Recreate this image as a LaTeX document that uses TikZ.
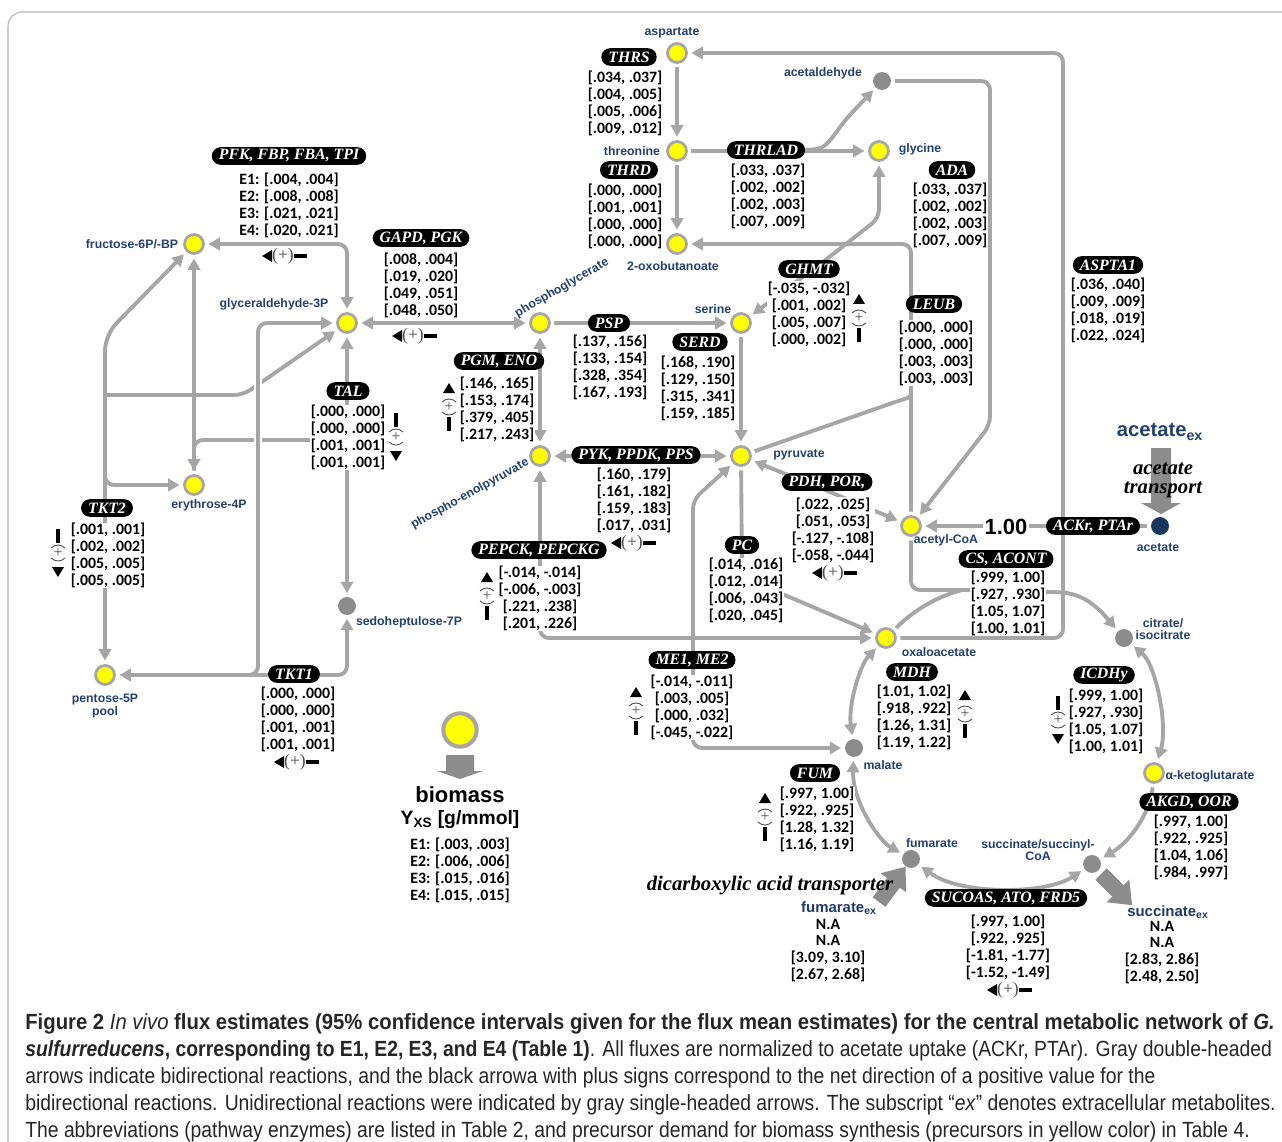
\documentclass[tikz,border=0pt]{standalone}
\usepackage{graphicx}
\usepackage{fontspec}
\setmainfont{Liberation Sans}
\newfontfamily\valfont{Carlito}
\newfontfamily\enzserif{Liberation Serif}
\newfontfamily\capfont[FakeStretch=0.88]{Liberation Sans}
\usetikzlibrary{arrows.meta,backgrounds}

\definecolor{fluxgray}{HTML}{A6A6A6}
\definecolor{metgray}{HTML}{8C8C8C}
\definecolor{metyellow}{HTML}{FFFF00}
\definecolor{navy}{HTML}{24406E}
\definecolor{exnavy}{HTML}{1F3A68}
\definecolor{acnavy}{HTML}{17375E}
\definecolor{blockgray}{HTML}{8C8C8C}
\definecolor{framegray}{HTML}{B4B4B4}

\newcommand{\fluxci}[4]{{#1}\\{#2}\\{#3}\\{#4}}

\tikzset{
  >={Triangle[length=6.5pt,width=7pt]},
  prec/.style={circle, draw=fluxgray, line width=1.6pt, fill=metyellow, minimum size=10.8pt, inner sep=0pt},
  inter/.style={circle, fill=metgray, minimum size=10.2pt, inner sep=0pt},
  extmet/.style={circle, fill=acnavy, minimum size=10.2pt, inner sep=0pt},
  metlab/.style={text=navy, font=\bfseries\fontsize{7}{7.2}\selectfont, align=center, inner sep=0pt},
  exlab/.style={text=exnavy, inner sep=0pt, font=\bfseries\fontsize{8.5}{8.5}\selectfont},
  enz/.style={fill=black, text=white, rounded corners=5pt, minimum height=10pt, inner xsep=4pt, inner ysep=0pt,
    font=\enzserif\bfseries\itshape\fontsize{9}{9}\selectfont},
  vals/.style={fill=white, align=center, inner sep=0.3pt, font=\valfont\bfseries\fontsize{9}{9.64}\selectfont},
  flux/.style={draw=fluxgray, line width=2.2pt, rounded corners=5pt, shorten >=2pt, shorten <=2pt},
  fromline/.style={shorten <=0pt},
  ontoline/.style={shorten >=0pt},
  overgap/.style={preaction={draw=white, line width=4.5pt}},
  transnote/.style={font=\enzserif\bfseries\itshape\fontsize{11.8}{10.8}\selectfont, align=center, inner sep=0pt},
  capline/.style={anchor=base west, inner sep=0pt, text=black!85, font=\capfont\fontsize{12.5}{12.5}\selectfont},
  hsign/.pic={
    \fill[black] (-22,0) -- (-12,-6) -- (-12,6) -- cycle;
    \node[inner sep=0pt, text=black!70, font=\enzserif\fontsize{10}{10}\selectfont] (-t) at (-1,0) {(+)};
    \fill[black] (10,-2.2) rectangle (23,2.2);
  },
  vsign/.pic={
    \fill[black] (0,-24) -- (-6,-14) -- (6,-14) -- cycle;
    \draw[black!70, line width=0.5pt] (-7,-5) .. controls (-3,-9) and (3,-9) .. (7,-5);
    \node[inner sep=0pt, text=black!70, font=\enzserif\fontsize{9}{9}\selectfont] (-t) at (0,0) {+};
    \draw[black!70, line width=0.5pt] (-7,5) .. controls (-3,9) and (3,9) .. (7,5);
    \fill[black] (-2,10) rectangle (2,24);
  },
  bigarrow/.pic={
    \fill[blockgray] (0,-8) -- (24,-8) -- (24,-16) -- (44,0) -- (24,16) -- (24,8) -- (0,8) -- cycle;
  }
}

\begin{document}
\begin{tikzpicture}[x=0.02cm, y=-0.02cm]
  \useasboundingbox (0,0) rectangle (1282,1142);
  \begin{scope}[on background layer]
    \fill[white] (0,0) rectangle (1282,1142);
    \draw[framegray, line width=0.6pt, rounded corners=8pt] (1282,12) -- (8,12) -- (8,1142);
  \end{scope}

  % metabolites
  \node[prec] (asp) at (677,53) {};
  \node[inter] (acald) at (882,81) {};
  \node[prec] (thr) at (677,151) {};
  \node[prec] (gly) at (879,151) {};
  \node[prec] (obut) at (677,244) {};
  \node[prec] (f6p) at (194,244) {};
  \node[prec] (g3p) at (347,323) {};
  \node[prec] (pg) at (540,323) {};
  \node[prec] (ser) at (741,323) {};
  \node[prec] (pep) at (540,456) {};
  \node[prec] (pyr) at (741,456) {};
  \node[prec] (e4p) at (194,485) {};
  \node[prec] (acoa) at (911,526) {};
  \node[extmet] (ac) at (1160,526) {};
  \node[inter] (s7p) at (347,606) {};
  \node[prec] (oaa) at (886,638) {};
  \node[inter] (cit) at (1124,638) {};
  \node[prec] (p5p) at (105,675) {};
  \node[inter] (mal) at (854,748) {};
  \node[prec] (akg) at (1154,773) {};
  \node[inter] (fum) at (911,859) {};
  \node[inter] (suc) at (1092,864) {};
  \node[prec, line width=2.3pt, minimum size=19pt] (bio) at (460,730) {};

  % metabolite names
  \node[metlab] (l-asp) at (672,33) {aspartate};
  \node[metlab] (l-acald) at (823,73) {acetaldehyde};
  \node[metlab] (l-thr) at (632,151) {threonine};
  \node[metlab] (l-gly) at (920,149) {glycine};
  \node[metlab] (l-obut) at (673,266) {2-oxobutanoate};
  \node[metlab] (l-f6p) at (132,244) {fructose-6P/-BP};
  \node[metlab] (l-g3p) at (274,304) {glyceraldehyde-3P};
  \node[metlab, rotate=30] (l-pg) at (562,288) {phosphoglycerate};
  \node[metlab] (l-ser) at (713,309) {serine};
  \node[metlab, rotate=29] (l-pep) at (470,494) {phospho-enolpyruvate};
  \node[metlab] (l-pyr) at (799,455) {pyruvate};
  \node[metlab] (l-e4p) at (209,505) {erythrose-4P};
  \node[metlab] (l-acoa) at (946,540) {acetyl-CoA};
  \node[metlab] (l-ac) at (1158,548) {acetate};
  \node[metlab] (l-s7p) at (409,622) {sedoheptulose-7P};
  \node[metlab] (l-oaa) at (939,652) {oxaloacetate};
  \node[metlab] (l-cit) at (1163,629) {citrate/\\isocitrate};
  \node[metlab] (l-p5p) at (105,706) {pentose-5P\\pool};
  \node[metlab] (l-mal) at (883,765) {malate};
  \node[metlab] (l-akg) at (1210,776) {α-ketoglutarate};
  \node[metlab] (l-fum) at (932,843) {fumarate};
  \node[metlab] (l-suc) at (1038,850) {succinate/succinyl-\\CoA};

  % enzymes
  \node[enz] (e-pfk) at (289,156) {PFK, FBP, FBA, TPI};
  \node[enz] (e-gapd) at (421,238) {GAPD, PGK};
  \node[enz] (e-thrs) at (629,57) {THRS};
  \node[enz] (e-thrd) at (629,170) {THRD};
  \node[enz] (e-thrlad) at (766,150) {THRLAD};
  \node[enz] (e-ada) at (952,170) {ADA};
  \node[enz] (e-ghmt) at (809,269) {GHMT};
  \node[enz] (e-leub) at (934,304) {LEUB};
  \node[enz] (e-aspta) at (1108,265) {ASPTA1};
  \node[enz] (e-psp) at (609,323) {PSP};
  \node[enz] (e-serd) at (700,342) {SERD};
  \node[enz] (e-pgm) at (499,361) {PGM, ENO};
  \node[enz] (e-tal) at (348,391) {TAL};
  \node[enz] (e-pyk) at (636,455) {PYK, PPDK, PPS};
  \node[enz] (e-tkt2) at (107,508) {TKT2};
  \node[enz] (e-pdh) at (827,482) {PDH, POR,};
  \node[enz] (e-pc) at (742,545) {PC};
  \node[enz] (e-pepck) at (539,550) {PEPCK, PEPCKG};
  \node[enz] (e-cs) at (1006,559) {CS, ACONT};
  \node[enz] (e-ack) at (1093,526) {ACKr, PTAr};
  \node[enz] (e-tkt1) at (294,674) {TKT1};
  \node[enz] (e-me) at (692,660) {ME1, ME2};
  \node[enz] (e-mdh) at (912,672) {MDH};
  \node[enz] (e-icdh) at (1104,675) {ICDHy};
  \node[enz] (e-fum) at (815,773) {FUM};
  \node[enz] (e-akgd) at (1189,802) {AKGD, OOR};
  \node[enz] (e-sucoas) at (1006,898) {SUCOAS, ATO, FRD5};

  % flux intervals E1--E4
  \node[vals] (v-pfk) at (289,205.5) {\fluxci{E1: [.004, .004]}{E2: [.008, .008]}{E3: [.021, .021]}{E4: [.020, .021]}};
  \node[vals] (v-gapd) at (421,285.5) {\fluxci{[.008, .004]}{[.019, .020]}{[.049, .051]}{[.048, .050]}};
  \node[vals] (v-thrs) at (625,103) {\fluxci{[.034, .037]}{[.004, .005]}{[.005, .006]}{[.009, .012]}};
  \node[vals] (v-thrd) at (625,216) {\fluxci{[.000, .000]}{[.001, .001]}{[.000, .000]}{[.000, .000]}};
  \node[vals] (v-thrlad) at (768,196.5) {\fluxci{[.033, .037]}{[.002, .002]}{[.002, .003]}{[.007, .009]}};
  \node[vals] (v-ada) at (950,215.5) {\fluxci{[.033, .037]}{[.002, .002]}{[.002, .003]}{[.007, .009]}};
  \node[vals] (v-ghmt) at (809,314) {\fluxci{[-.035, -.032]}{[.001, .002]}{[.005, .007]}{[.000, .002]}};
  \node[vals] (v-leub) at (936,353) {\fluxci{[.000, .000]}{[.000, .000]}{[.003, .003]}{[.003, .003]}};
  \node[vals] (v-aspta) at (1108,310.5) {\fluxci{[.036, .040]}{[.009, .009]}{[.018, .019]}{[.022, .024]}};
  \node[vals] (v-psp) at (610,367.5) {\fluxci{[.137, .156]}{[.133, .154]}{[.328, .354]}{[.167, .193]}};
  \node[vals] (v-serd) at (698,388) {\fluxci{[.168, .190]}{[.129, .150]}{[.315, .341]}{[.159, .185]}};
  \node[vals] (v-pgm) at (497,409.5) {\fluxci{[.146, .165]}{[.153, .174]}{[.379, .405]}{[.217, .243]}};
  \node[vals] (v-tal) at (348,437.5) {\fluxci{[.000, .000]}{[.000, .000]}{[.001, .001]}{[.001, .001]}};
  \node[vals] (v-pyk) at (634,500.5) {\fluxci{[.160, .179]}{[.161, .182]}{[.159, .183]}{[.017, .031]}};
  \node[vals] (v-tkt2) at (108,555.5) {\fluxci{[.001, .001]}{[.002, .002]}{[.005, .005]}{[.005, .005]}};
  \node[vals] (v-pdh) at (833,530) {\fluxci{[.022, .025]}{[.051, .053]}{[-.127, -.108]}{[-.058, -.044]}};
  \node[vals] (v-pc) at (746,590.5) {\fluxci{[.014, .016]}{[.012, .014]}{[.006, .043]}{[.020, .045]}};
  \node[vals] (v-pepck) at (540,598.5) {\fluxci{[-.014, -.014]}{[-.006, -.003]}{[.221, .238]}{[.201, .226]}};
  \node[vals] (v-cs) at (1008,603.5) {\fluxci{[.999, 1.00]}{[.927, .930]}{[1.05, 1.07]}{[1.00, 1.01]}};
  \node[vals] (v-tkt1) at (298,719.5) {\fluxci{[.000, .000]}{[.000, .000]}{[.001, .001]}{[.001, .001]}};
  \node[vals] (v-me) at (692,707.5) {\fluxci{[-.014, -.011]}{[.003, .005]}{[.000, .032]}{[-.045, -.022]}};
  \node[vals] (v-mdh) at (914,717.5) {\fluxci{[1.01, 1.02]}{[.918, .922]}{[1.26, 1.31]}{[1.19, 1.22]}};
  \node[vals] (v-icdh) at (1106,721.5) {\fluxci{[.999, 1.00]}{[.927, .930]}{[1.05, 1.07]}{[1.00, 1.01]}};
  \node[vals] (v-fum) at (817,819.5) {\fluxci{[.997, 1.00]}{[.922, .925]}{[1.28, 1.32]}{[1.16, 1.19]}};
  \node[vals] (v-akgd) at (1191,847.5) {\fluxci{[.997, 1.00]}{[.922, .925]}{[1.04, 1.06]}{[.984, .997]}};
  \node[vals] (v-sucoas) at (1008,947) {\fluxci{[.997, 1.00]}{[.922, .925]}{[-1.81, -1.77]}{[-1.52, -1.49]}};
  \node[vals] (v-fumex) at (828,950.5) {\fluxci{N.A}{N.A}{[3.09, 3.10]}{[2.67, 2.68]}};
  \node[vals] (v-sucex) at (1162,952.5) {\fluxci{N.A}{N.A}{[2.83, 2.86]}{[2.48, 2.50]}};
  \node[vals] (v-bio) at (460,870.5) {\fluxci{E1: [.003, .003]}{E2: [.006, .006]}{E3: [.015, .016]}{E4: [.015, .015]}};
  \node[fill=white, inner sep=1pt, font=\bfseries\fontsize{12.5}{12.5}\selectfont] (v-ack) at (1006,527) {1.00};

  % net direction of a positive value
  \pic (s-pfk) at (284,256) {hsign};
  \pic (s-gapd) at (414,336) {hsign};
  \pic (s-pyk) at (633,543) {hsign};
  \pic (s-pdh) at (834,573) {hsign};
  \pic (s-tkt1) at (296,762) {hsign};
  \pic (s-sucoas) at (1009,990) {hsign};
  \pic (s-ghmt) at (859,318) {vsign};
  \pic (s-pgm) at (449,407) {vsign};
  \pic (s-pepck) at (487,596) {vsign};
  \pic (s-me) at (636,711) {vsign};
  \pic (s-mdh) at (965,714) {vsign};
  \pic (s-fum) at (765,817) {vsign};
  \pic[rotate=180] (s-tal) at (396,437) {vsign};
  \pic[rotate=180] (s-tkt2) at (58,553) {vsign};
  \pic[rotate=180] (s-icdh) at (1058,720) {vsign};

  % transport and biomass
  \fill[blockgray] (1151,448) -- (1171,448) -- (1171,503) -- (1181,503) -- (1161,514) -- (1141,503) -- (1151,503) -- cycle;
  \fill[blockgray] (446,755) -- (474,755) -- (474,771) -- (483,771) -- (460,779) -- (437,771) -- (446,771) -- cycle;
  \pic[rotate=53] (a-fumex) at (879,902) {bigarrow};
  \pic[rotate=-45] (a-sucex) at (1101,874) {bigarrow};
  \node[text=navy, inner sep=0pt, font=\bfseries\fontsize{11.5}{11.5}\selectfont] (t-acex) at (1160,432) {acetate\textsubscript{ex}};
  \node[transnote] (t-actr) at (1163,480) {acetate\\transport};
  \node[transnote] (t-dct) at (770,886) {dicarboxylic acid transporter};
  \node[exlab] (t-fumex) at (839,908) {fumarate\textsubscript{ex}};
  \node[exlab] (t-sucex) at (1168,912) {succinate\textsubscript{ex}};
  \node[inner sep=0pt, font=\bfseries\fontsize{12.5}{12.5}\selectfont] (t-bio) at (460,795) {biomass};
  \node[inner sep=0pt, font=\bfseries\fontsize{11}{11}\selectfont] (t-yxs) at (460,820) {Y\textsubscript{XS} [g/mmol]};

  % reactions
  \begin{scope}[on background layer]
  \begin{scope}[flux]
    \draw[->] (asp) -- (thr);
    \draw[->] (thr) -- (obut);
    \draw[->] (thr) -- (gly);
    \draw[->, fromline] (e-thrlad.east) .. controls (824,149) .. (846,119) -- (acald);
    \draw[->] (oaa) -| (1063,53) -- (asp);
    \draw[->] (acald) -| (990,425) -- (acoa);
    \draw[->] (acoa) |- (obut);
    \draw[ontoline] (pyr) -- (898,401) .. controls (911,397) .. (911,385);
    \draw[<->] (ser) -- (832,255) -- (879,218) -- (gly);
    \draw[->] (pg) -- (ser);
    \draw[->] (ser) -- (pyr);
    \draw[<->] (g3p) -- (pg);
    \draw[<->] (pg) -- (pep);
    \draw[<->] (pep) -- (pyr);
    \draw[<->] (pep) |- (oaa);
    \draw[->] (pyr) -- (742,577) -- (oaa);
    \draw[<->] (pyr) -- (830,492) -- (acoa);
    \draw[->] (ac) -- (acoa);
    \draw[<->] (mal) -| (693,500) -- (pyr);
    % TCA cycle
    \coordinate (csj) at (962,590);
    \draw[ontoline] (acoa) |- (csj);
    \draw[ontoline] (oaa) .. controls (912,612) and (935,597) .. (csj);
    \draw[->, fromline] (csj) -- (1050,592) .. controls (1085,593) and (1100,610) .. (cit);
    \draw[<->] (oaa) .. controls (860,665) and (848,705) .. (mal);
    \draw[<->] (mal) .. controls (852,800) and (878,840) .. (fum);
    \draw[<->] (fum) .. controls (960,895) and (1045,895) .. (suc);
    \draw[->] (akg) .. controls (1150,815) and (1128,843) .. (suc);
    \draw[<->] (cit) .. controls (1156,665) and (1168,725) .. (akg);
    % glycolysis and pentose phosphate
    \draw[<->] (g3p) |- (f6p);
    \draw[<->] (g3p) -- (s7p);
    \draw[<->] (f6p) -- (e4p);
    \coordinate (talj) at (347,440);
    \draw[fromline] (talj) -| (e4p);
    \draw[<->, rounded corners=9pt] (p5p) -- (105,335) -- (f6p);
    \coordinate (tkt2g) at (105,395);
    \coordinate (tkt2e) at (105,465);
    \draw[->, fromline] (tkt2g) -- (243,395) -- (g3p);
    \draw[->, fromline] (tkt2e) |- (e4p);
    \coordinate (tkt1j) at (232,675);
    \draw[->, fromline, overgap] (tkt1j) -| (258,323) -- (g3p);
    \draw[<->] (s7p) |- (p5p);
  \end{scope}
  \end{scope}

  % caption
  \node[capline] (cap1) at (25,1029) {\scalebox{1.05}[1]{\textbf{Figure 2} \textit{In vivo} \textbf{flux estimates (95\% confidence intervals given for the flux mean estimates) for the central metabolic network of \textit{G.}}}};
  \node[capline] (cap2) at (25,1056) {\textbf{\textit{sulfurreducens}, corresponding to E1, E2, E3, and E4 (Table 1)}. All fluxes are normalized to acetate uptake (ACKr, PTAr). Gray double-headed};
  \node[capline] (cap3) at (25,1083) {arrows indicate bidirectional reactions, and the black arrowa with plus signs correspond to the net direction of a positive value for the};
  \node[capline] (cap4) at (25,1110) {bidirectional reactions. Unidirectional reactions were indicated by gray single-headed arrows. The subscript “\textit{ex}” denotes extracellular metabolites.};
  \node[capline] (cap5) at (25,1137) {The abbreviations (pathway enzymes) are listed in Table 2, and precursor demand for biomass synthesis (precursors in yellow color) in Table 4.};
\end{tikzpicture}
\end{document}
